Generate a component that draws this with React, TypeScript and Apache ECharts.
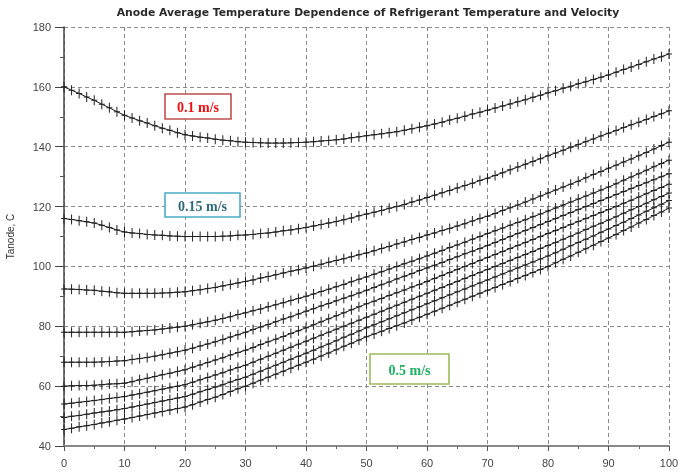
import React, { useEffect, useRef } from "react";
import * as echarts from "echarts";

const titleText = "Anode Average Temperature Dependence of Refrigerant Temperature and Velocity";
const yAxisName = "Tanode, C";

const xValues = [
  0, 1.25, 2.5, 3.75, 5, 6.25, 7.5, 8.75, 10, 11.25, 12.5, 13.75, 15, 16.25, 17.5, 18.75,
  20, 21.25, 22.5, 23.75, 25, 26.25, 27.5, 28.75, 30, 31.25, 32.5, 33.75, 35, 36.25, 37.5, 38.75,
  40, 41.25, 42.5, 43.75, 45, 46.25, 47.5, 48.75, 50, 51.25, 52.5, 53.75, 55, 56.25, 57.5, 58.75,
  60, 61.25, 62.5, 63.75, 65, 66.25, 67.5, 68.75, 70, 71.25, 72.5, 73.75, 75, 76.25, 77.5, 78.75,
  80, 81.25, 82.5, 83.75, 85, 86.25, 87.5, 88.75, 90, 91.25, 92.5, 93.75, 95, 96.25, 97.5, 98.75, 100,
];

const v010 = [
  160, 158.9, 157.8, 156.6, 155.5, 154.2, 153, 151.7, 150.5, 149.6, 148.7, 147.9, 147, 146.2, 145.5, 144.7,
  144, 143.6, 143.2, 142.9, 142.5, 142.2, 142, 141.7, 141.5, 141.4, 141.3, 141.2, 141.2, 141.2, 141.3, 141.4,
  141.5, 141.7, 141.9, 142.1, 142.3, 142.6, 143, 143.3, 143.7, 144, 144.3, 144.7, 145, 145.5, 146, 146.5,
  147, 147.6, 148.2, 148.9, 149.5, 150.2, 150.9, 151.5, 152.2, 152.9, 153.6, 154.3, 155, 155.7, 156.5, 157.2,
  158, 158.7, 159.5, 160.2, 161, 161.7, 162.5, 163.2, 164, 164.9, 165.8, 166.6, 167.5, 168.4, 169.3, 170.1, 171,
];
const v015 = [
  116, 115.7, 115.3, 114.9, 114.5, 113.8, 113, 112.2, 111.5, 111.2, 111, 110.7, 110.5, 110.4, 110.2, 110.1,
  110, 110, 110, 110, 110, 110.1, 110.2, 110.4, 110.5, 110.7, 111, 111.2, 111.5, 111.9, 112.2, 112.6,
  113, 113.5, 114, 114.5, 115, 115.6, 116.2, 116.9, 117.5, 118.1, 118.7, 119.4, 120, 120.7, 121.5, 122.2,
  123, 123.8, 124.6, 125.4, 126.2, 127, 127.8, 128.7, 129.5, 130.4, 131.3, 132.3, 133.2, 134.1, 135.1, 136,
  137, 137.9, 138.8, 139.8, 140.7, 141.7, 142.6, 143.6, 144.5, 145.4, 146.4, 147.3, 148.2, 149.1, 150.1, 151, 152,
];
const v020 = [
  92.5, 92.4, 92.3, 92.1, 92, 91.7, 91.5, 91.2, 91, 91, 91, 91, 91, 91.1, 91.2, 91.4,
  91.5, 91.9, 92.2, 92.6, 93, 93.5, 94, 94.5, 95, 95.5, 96.1, 96.6, 97.2, 97.8, 98.4, 98.9,
  99.5, 100.1, 100.7, 101.4, 102, 102.6, 103.2, 103.9, 104.5, 105.2, 106, 106.7, 107.5, 108.2, 109, 109.7,
  110.5, 111.2, 112, 112.7, 113.5, 114.3, 115.2, 116, 116.8, 117.7, 118.7, 119.6, 120.5, 121.5, 122.5, 123.5,
  124.5, 125.5, 126.5, 127.5, 128.5, 129.6, 130.7, 131.7, 132.8, 133.8, 134.9, 135.9, 137, 138.1, 139.2, 140.4, 141.5,
];
const v025 = [
  78, 78, 78, 78, 78, 78, 78, 78, 78, 78.2, 78.4, 78.6, 78.8, 79.1, 79.4, 79.7,
  80, 80.5, 81, 81.5, 82, 82.6, 83.2, 83.9, 84.5, 85.2, 85.8, 86.5, 87.2, 87.9, 88.6, 89.3,
  90, 90.8, 91.6, 92.4, 93.2, 94, 94.9, 95.7, 96.5, 97.4, 98.2, 99.1, 100, 100.9, 101.7, 102.6,
  103.5, 104.4, 105.3, 106.3, 107.2, 108.1, 109.1, 110, 111, 111.9, 112.8, 113.8, 114.7, 115.6, 116.6, 117.5,
  118.5, 119.5, 120.5, 121.5, 122.5, 123.5, 124.5, 125.5, 126.5, 127.6, 128.8, 129.9, 131, 132.1, 133.3, 134.4, 135.5,
];
const v030 = [
  68, 68, 68, 68, 68, 68.1, 68.2, 68.4, 68.5, 68.9, 69.2, 69.6, 70, 70.5, 71, 71.5,
  72, 72.7, 73.4, 74.1, 74.8, 75.6, 76.4, 77.2, 78, 78.9, 79.8, 80.6, 81.5, 82.4, 83.2, 84.1,
  85, 85.9, 86.8, 87.6, 88.5, 89.4, 90.2, 91.1, 92, 93, 93.9, 94.8, 95.8, 96.7, 97.6, 98.6,
  99.5, 100.4, 101.3, 102.3, 103.2, 104.2, 105.1, 106, 107, 108, 109, 110, 111, 112, 113, 114,
  115, 116, 117, 118, 119, 120, 121, 122, 123, 124, 125, 126, 127, 128, 129, 130, 131,
];
const v035 = [
  60, 60.1, 60.2, 60.2, 60.3, 60.5, 60.7, 60.8, 61, 61.5, 62.1, 62.6, 63.2, 63.8, 64.3, 64.9,
  65.5, 66.3, 67.1, 67.9, 68.7, 69.5, 70.4, 71.2, 72, 72.9, 73.9, 74.8, 75.7, 76.6, 77.6, 78.5,
  79.5, 80.5, 81.5, 82.5, 83.5, 84.5, 85.5, 86.5, 87.5, 88.4, 89.3, 90.3, 91.2, 92.1, 93.1, 94,
  95, 96, 97, 98, 99, 100, 101, 102, 103, 104, 105, 106, 107, 108, 109, 110,
  111, 112, 113, 114, 115, 116, 117, 118, 119, 120, 121.1, 122.1, 123.2, 124.3, 125.4, 126.4, 127.5,
];
const v040 = [
  54, 54.3, 54.6, 54.9, 55.2, 55.5, 55.9, 56.2, 56.5, 57, 57.5, 58, 58.5, 59, 59.5, 60,
  60.5, 61.3, 62.1, 62.9, 63.7, 64.5, 65.4, 66.2, 67, 68, 69, 70, 71, 72, 73, 74,
  75, 76, 77, 78, 79, 80, 81, 82, 83, 84, 85, 86, 87, 88, 89, 90,
  91, 92, 93, 94, 95, 96, 97, 98, 99, 100, 101, 102, 103, 104, 105, 106,
  107, 108, 109.1, 110.1, 111.2, 112.3, 113.4, 114.4, 115.5, 116.6, 117.8, 118.9, 120, 121.1, 122.3, 123.4, 124.5,
];
const v045 = [
  49.5, 49.9, 50.2, 50.6, 51, 51.4, 51.7, 52.1, 52.5, 53, 53.5, 54, 54.5, 55, 55.5, 56,
  56.5, 57.3, 58.1, 58.9, 59.7, 60.5, 61.4, 62.2, 63, 64, 65, 66, 67, 68, 69, 70,
  71, 72, 73.1, 74.1, 75.2, 76.3, 77.3, 78.4, 79.5, 80.5, 81.5, 82.5, 83.5, 84.5, 85.5, 86.5,
  87.5, 88.5, 89.5, 90.5, 91.5, 92.5, 93.5, 94.5, 95.5, 96.5, 97.5, 98.5, 99.5, 100.5, 101.5, 102.5,
  103.5, 104.6, 105.7, 106.9, 108, 109.1, 110.2, 111.4, 112.5, 113.7, 114.8, 116, 117.2, 118.4, 119.6, 120.8, 122,
];
const v050 = [
  45.5, 45.9, 46.4, 46.8, 47.2, 47.7, 48.1, 48.6, 49, 49.5, 50, 50.5, 51, 51.5, 52, 52.5,
  53, 53.8, 54.7, 55.5, 56.3, 57.2, 58.2, 59.1, 60, 61, 62, 63, 64, 65, 66, 67,
  68, 69, 70.1, 71.1, 72.2, 73.3, 74.3, 75.4, 76.5, 77.4, 78.3, 79.3, 80.2, 81.1, 82.1, 83,
  84, 85, 86, 87, 88, 89, 90, 91, 92, 93, 94, 95, 96, 97, 98, 99,
  100, 101.2, 102.4, 103.5, 104.7, 105.9, 107.1, 108.3, 109.5, 110.7, 112, 113.2, 114.5, 115.7, 117, 118.2, 119.5,
];

const seriesNames = ["0.1", "0.15", "0.2", "0.25", "0.3", "0.35", "0.4", "0.45", "0.5"];
const seriesValues = [v010, v015, v020, v025, v030, v035, v040, v045, v050];

const PLUS = "path://M-0.5,-5 L0.5,-5 L0.5,-0.5 L3,-0.5 L3,0.5 L0.5,0.5 L0.5,5 L-0.5,5 L-0.5,0.5 L-3,0.5 L-3,-0.5 L-0.5,-0.5 Z";

export default function App() {
  const ref = useRef<HTMLDivElement>(null);
  useEffect(() => {
    if (!ref.current) return;
    const chart = echarts.init(ref.current, undefined, { renderer: "svg" });
    const font = "'Liberation Sans', Arial, sans-serif";
    const series = seriesValues.map((vals, i) => ({
      name: seriesNames[i],
      type: "line",
      data: xValues.map((x, j) => [x, vals[j]]),
      symbol: PLUS,
      symbolSize: [6, 10],
      showSymbol: true,
      showAllSymbol: true,
      lineStyle: { color: "#1a1a1a", width: 1 },
      itemStyle: { color: "#222" },
      z: 3,
    }));
    const annot = (x: number, y: number, w: number, h: number, text: string, border: string, color: string) => ({
      type: "group",
      x,
      y,
      z: 100,
      children: [
        { type: "rect", z: 100, shape: { x: 0, y: 0, width: w, height: h }, style: { fill: "#ffffff", stroke: border, lineWidth: 1.6 } },
        {
          type: "text",
          z: 101,
          x: w / 2,
          y: h / 2 + 1,
          style: {
            text,
            fill: color,
            font: "bold 14px 'Liberation Serif', 'Times New Roman', serif",
            align: "center",
            verticalAlign: "middle",
          },
        },
      ],
    });
    chart.setOption({
      animation: false,
      title: {
        text: titleText,
        left: 363,
        textAlign: "center",
        top: 2,
        textStyle: { fontSize: 10.8, fontWeight: "bold", color: "#2a2a2a", fontFamily: "'DejaVu Sans', Verdana, sans-serif" },
      },
      grid: { left: 64, right: 12, top: 27, bottom: 26, containLabel: false, outerBoundsMode: "none" },
      xAxis: {
        type: "value",
        min: 0,
        max: 100,
        interval: 10,
        axisLine: { show: true, lineStyle: { color: "#8a8a8a", width: 2 } },
        axisTick: { show: true, length: 5, lineStyle: { color: "#555" } },
        minorTick: { show: true, splitNumber: 2, length: 3, lineStyle: { color: "#666" } },
        axisLabel: { fontSize: 11, color: "#444", fontFamily: font, margin: 11 },
        splitLine: { show: true, lineStyle: { color: "#8c8c8c", type: [4, 3], width: 1 } },
      },
      yAxis: {
        type: "value",
        min: 40,
        max: 180,
        interval: 20,
        name: yAxisName,
        nameLocation: "middle",
        nameGap: 49,
        nameTextStyle: { fontSize: 10, color: "#333", fontFamily: font },
        axisLine: { show: true, lineStyle: { color: "#444", width: 1.5 } },
        axisTick: { show: true, length: 9, lineStyle: { color: "#444" } },
        minorTick: { show: true, splitNumber: 2, length: 4, lineStyle: { color: "#555" } },
        axisLabel: { fontSize: 11, color: "#444", fontFamily: font, margin: 13 },
        splitLine: { show: true, lineStyle: { color: "#8c8c8c", type: [4, 3], width: 1 } },
      },
      series,
      graphic: [
        annot(165, 94, 66, 25, "0.1 m/s", "#c0504d", "#f01010"),
        annot(165, 193, 75, 24, "0.15 m/s", "#4bacc6", "#2f6a78"),
        annot(370, 354, 79, 30, "0.5 m/s", "#9bbb59", "#22b060"),
      ],
    });
    return () => chart.dispose();
  }, []);
  return <div ref={ref} style={{ position: "fixed", left: 0, top: 0, width: 681, height: 472 }} />;
}
